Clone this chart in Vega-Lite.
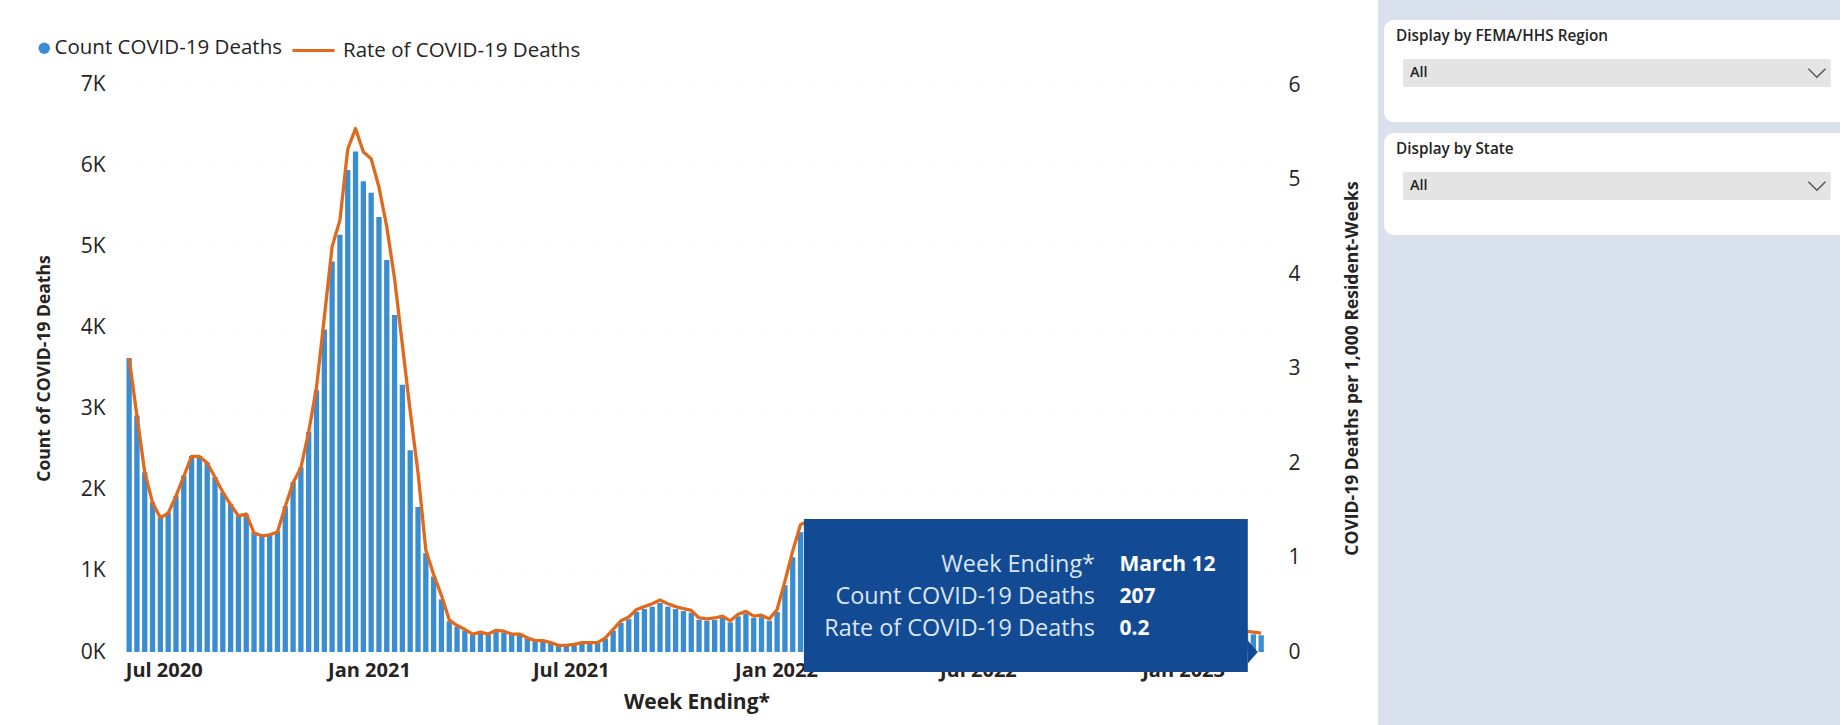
{
  "$schema": "https://vega.github.io/schema/vega-lite/v6.json",
  "background": "#ffffff",
  "padding": {"left": 34, "top": 0, "right": 0, "bottom": 0},
  "spacing": 17,
  "datasets": {
    "weekly": [
      {"week":"2020-05-31","count":3630,"rate":3.11},
      {"week":"2020-06-07","count":2920,"rate":2.50},
      {"week":"2020-06-14","count":2220,"rate":1.90},
      {"week":"2020-06-21","count":1850,"rate":1.58},
      {"week":"2020-06-28","count":1660,"rate":1.42},
      {"week":"2020-07-05","count":1720,"rate":1.47},
      {"week":"2020-07-12","count":1930,"rate":1.65},
      {"week":"2020-07-19","count":2180,"rate":1.86},
      {"week":"2020-07-26","count":2420,"rate":2.07},
      {"week":"2020-08-02","count":2420,"rate":2.07},
      {"week":"2020-08-09","count":2340,"rate":2.00},
      {"week":"2020-08-16","count":2160,"rate":1.85},
      {"week":"2020-08-23","count":1970,"rate":1.69},
      {"week":"2020-08-30","count":1830,"rate":1.56},
      {"week":"2020-09-06","count":1680,"rate":1.44},
      {"week":"2020-09-13","count":1700,"rate":1.46},
      {"week":"2020-09-20","count":1480,"rate":1.26},
      {"week":"2020-09-27","count":1440,"rate":1.23},
      {"week":"2020-10-04","count":1450,"rate":1.24},
      {"week":"2020-10-11","count":1490,"rate":1.27},
      {"week":"2020-10-18","count":1800,"rate":1.54},
      {"week":"2020-10-25","count":2100,"rate":1.79},
      {"week":"2020-11-01","count":2280,"rate":1.95},
      {"week":"2020-11-08","count":2720,"rate":2.33},
      {"week":"2020-11-15","count":3230,"rate":2.80},
      {"week":"2020-11-22","count":3980,"rate":3.54},
      {"week":"2020-11-29","count":4820,"rate":4.29},
      {"week":"2020-12-06","count":5150,"rate":4.57},
      {"week":"2020-12-13","count":5950,"rate":5.32},
      {"week":"2020-12-20","count":6180,"rate":5.54},
      {"week":"2020-12-27","count":5810,"rate":5.29},
      {"week":"2021-01-03","count":5670,"rate":5.22},
      {"week":"2021-01-10","count":5370,"rate":4.92},
      {"week":"2021-01-17","count":4840,"rate":4.50},
      {"week":"2021-01-24","count":4160,"rate":3.95},
      {"week":"2021-01-31","count":3300,"rate":3.25},
      {"week":"2021-02-07","count":2490,"rate":2.55},
      {"week":"2021-02-14","count":1790,"rate":1.90},
      {"week":"2021-02-21","count":1220,"rate":1.08},
      {"week":"2021-02-28","count":930,"rate":0.82},
      {"week":"2021-03-07","count":650,"rate":0.60},
      {"week":"2021-03-14","count":380,"rate":0.34},
      {"week":"2021-03-21","count":310,"rate":0.28},
      {"week":"2021-03-28","count":265,"rate":0.24},
      {"week":"2021-04-04","count":210,"rate":0.19},
      {"week":"2021-04-11","count":230,"rate":0.21},
      {"week":"2021-04-18","count":210,"rate":0.19},
      {"week":"2021-04-25","count":250,"rate":0.23},
      {"week":"2021-05-02","count":240,"rate":0.22},
      {"week":"2021-05-09","count":210,"rate":0.19},
      {"week":"2021-05-16","count":210,"rate":0.19},
      {"week":"2021-05-23","count":165,"rate":0.15},
      {"week":"2021-05-30","count":130,"rate":0.12},
      {"week":"2021-06-06","count":130,"rate":0.12},
      {"week":"2021-06-13","count":110,"rate":0.10},
      {"week":"2021-06-20","count":80,"rate":0.07},
      {"week":"2021-06-27","count":80,"rate":0.07},
      {"week":"2021-07-04","count":90,"rate":0.08},
      {"week":"2021-07-11","count":110,"rate":0.10},
      {"week":"2021-07-18","count":110,"rate":0.10},
      {"week":"2021-07-25","count":110,"rate":0.10},
      {"week":"2021-08-01","count":165,"rate":0.15},
      {"week":"2021-08-08","count":265,"rate":0.24},
      {"week":"2021-08-15","count":360,"rate":0.33},
      {"week":"2021-08-22","count":405,"rate":0.37},
      {"week":"2021-08-29","count":495,"rate":0.45},
      {"week":"2021-09-05","count":530,"rate":0.48},
      {"week":"2021-09-12","count":560,"rate":0.51},
      {"week":"2021-09-19","count":605,"rate":0.55},
      {"week":"2021-09-26","count":560,"rate":0.51},
      {"week":"2021-10-03","count":530,"rate":0.48},
      {"week":"2021-10-10","count":505,"rate":0.46},
      {"week":"2021-10-17","count":485,"rate":0.44},
      {"week":"2021-10-24","count":395,"rate":0.36},
      {"week":"2021-10-31","count":385,"rate":0.35},
      {"week":"2021-11-07","count":395,"rate":0.36},
      {"week":"2021-11-14","count":420,"rate":0.38},
      {"week":"2021-11-21","count":365,"rate":0.33},
      {"week":"2021-11-28","count":440,"rate":0.40},
      {"week":"2021-12-05","count":475,"rate":0.43},
      {"week":"2021-12-12","count":420,"rate":0.38},
      {"week":"2021-12-19","count":430,"rate":0.39},
      {"week":"2021-12-26","count":385,"rate":0.35},
      {"week":"2022-01-02","count":495,"rate":0.45},
      {"week":"2022-01-09","count":825,"rate":0.75},
      {"week":"2022-01-16","count":1170,"rate":1.07},
      {"week":"2022-01-23","count":1480,"rate":1.35},
      {"week":"2022-01-30","count":1500,"rate":1.38},
      {"week":"2022-02-06","count":1340,"rate":1.25},
      {"week":"2022-02-13","count":1090,"rate":1.02},
      {"week":"2022-02-20","count":835,"rate":0.78},
      {"week":"2022-02-27","count":620,"rate":0.58},
      {"week":"2022-03-06","count":450,"rate":0.42},
      {"week":"2022-03-13","count":320,"rate":0.30},
      {"week":"2022-03-20","count":235,"rate":0.22},
      {"week":"2022-03-27","count":180,"rate":0.17},
      {"week":"2022-04-03","count":140,"rate":0.13},
      {"week":"2022-04-10","count":118,"rate":0.11},
      {"week":"2022-04-17","count":107,"rate":0.10},
      {"week":"2022-04-24","count":96,"rate":0.09},
      {"week":"2022-05-01","count":96,"rate":0.09},
      {"week":"2022-05-08","count":107,"rate":0.10},
      {"week":"2022-05-15","count":128,"rate":0.12},
      {"week":"2022-05-22","count":150,"rate":0.14},
      {"week":"2022-05-29","count":160,"rate":0.15},
      {"week":"2022-06-05","count":182,"rate":0.17},
      {"week":"2022-06-12","count":193,"rate":0.18},
      {"week":"2022-06-19","count":203,"rate":0.19},
      {"week":"2022-06-26","count":225,"rate":0.21},
      {"week":"2022-07-03","count":246,"rate":0.23},
      {"week":"2022-07-10","count":278,"rate":0.26},
      {"week":"2022-07-17","count":321,"rate":0.30},
      {"week":"2022-07-24","count":353,"rate":0.33},
      {"week":"2022-07-31","count":385,"rate":0.36},
      {"week":"2022-08-07","count":396,"rate":0.37},
      {"week":"2022-08-14","count":396,"rate":0.37},
      {"week":"2022-08-21","count":375,"rate":0.35},
      {"week":"2022-08-28","count":364,"rate":0.34},
      {"week":"2022-09-04","count":332,"rate":0.31},
      {"week":"2022-09-11","count":310,"rate":0.29},
      {"week":"2022-09-18","count":300,"rate":0.28},
      {"week":"2022-09-25","count":289,"rate":0.27},
      {"week":"2022-10-02","count":289,"rate":0.27},
      {"week":"2022-10-09","count":278,"rate":0.26},
      {"week":"2022-10-16","count":289,"rate":0.27},
      {"week":"2022-10-23","count":300,"rate":0.28},
      {"week":"2022-10-30","count":310,"rate":0.29},
      {"week":"2022-11-06","count":321,"rate":0.30},
      {"week":"2022-11-13","count":332,"rate":0.31},
      {"week":"2022-11-20","count":353,"rate":0.33},
      {"week":"2022-11-27","count":385,"rate":0.36},
      {"week":"2022-12-04","count":460,"rate":0.43},
      {"week":"2022-12-11","count":535,"rate":0.50},
      {"week":"2022-12-18","count":588,"rate":0.55},
      {"week":"2022-12-25","count":599,"rate":0.56},
      {"week":"2023-01-01","count":620,"rate":0.58},
      {"week":"2023-01-08","count":588,"rate":0.55},
      {"week":"2023-01-15","count":514,"rate":0.48},
      {"week":"2023-01-22","count":428,"rate":0.40},
      {"week":"2023-01-29","count":353,"rate":0.33},
      {"week":"2023-02-05","count":300,"rate":0.28},
      {"week":"2023-02-12","count":268,"rate":0.25},
      {"week":"2023-02-19","count":246,"rate":0.23},
      {"week":"2023-02-26","count":230,"rate":0.22},
      {"week":"2023-03-05","count":218,"rate":0.21},
      {"week":"2023-03-12","count":207,"rate":0.20}
    ],
    "tooltip": [
      {"labels": "Week Ending*\nCount COVID-19 Deaths\nRate of COVID-19 Deaths", "values": "March 12\n207\n0.2"}
    ],
    "slicers": [
      {"slicer": "Display by FEMA/HHS Region", "selected": "All"},
      {"slicer": "Display by State", "selected": "All"}
    ]
  },
  "hconcat": [
    {
      "width": 1157,
      "height": 652,
      "layer": [
        {
          "data": {"name": "weekly"},
          "mark": {"type": "bar", "width": 5.3},
          "encoding": {
            "x": {
              "field": "week", "type": "temporal",
              "scale": {"type": "utc", "domain": [{"year": 2020, "month": 5, "date": 25, "hours": 12, "utc": true}, {"year": 2023, "month": 3, "date": 19, "hours": 22, "utc": true}]},
              "axis": {
                "values": [{"year": 2020, "month": 7, "date": 1, "utc": true}, {"year": 2021, "month": 1, "date": 1, "utc": true}, {"year": 2021, "month": 7, "date": 1, "utc": true}, {"year": 2022, "month": 1, "date": 1, "utc": true}, {"year": 2022, "month": 7, "date": 1, "utc": true}, {"year": 2023, "month": 1, "date": 1, "utc": true}],
                "labelExpr": "utcFormat(datum.value, '%b %Y')",
                "title": "Week Ending*", "titleFontSize": 21, "titleFontWeight": "bold", "titlePadding": 11,
                "labelFontSize": 20, "labelFontWeight": "bold", "labelPadding": 8.5,
                "ticks": false, "tickSize": 0, "domain": false, "grid": false, "labelFlush": false
              }
            },
            "y": {
              "field": "count", "type": "quantitative",
              "scale": {"domain": [0, 8049], "nice": false},
              "axis": {
                "orient": "left", "values": [0, 1000, 2000, 3000, 4000, 5000, 6000, 7000],
                "labelExpr": "(datum.value / 1000) + 'K'",
                "title": "Count of COVID-19 Deaths", "titleFontSize": 17.5, "titleFontWeight": "bold",
                "titleX": -65, "titleY": 368,
                "labelFontSize": 21, "labelPadding": 13,
                "ticks": false, "tickSize": 0, "domain": false,
                "grid": true, "gridColor": "#f0f0f0", "gridDash": [1, 5]
              }
            },
            "fill": {
              "datum": "Count COVID-19 Deaths",
              "scale": {"range": ["#3a8dd0"]},
              "legend": {"orient": "none", "legendX": -84, "legendY": 38, "title": null, "symbolType": "circle", "symbolSize": 133, "labelFontSize": 20.5, "labelOffset": 0, "labelLimit": 400}
            }
          }
        },
        {
          "layer": [
            {
              "data": {"name": "weekly"},
              "mark": {"type": "line", "strokeWidth": 3.3, "strokeJoin": "round"},
              "encoding": {
                "x": {
                  "field": "week", "type": "temporal",
                  "axis": {
                    "values": [{"year": 2020, "month": 7, "date": 1, "utc": true}, {"year": 2021, "month": 1, "date": 1, "utc": true}, {"year": 2021, "month": 7, "date": 1, "utc": true}, {"year": 2022, "month": 1, "date": 1, "utc": true}, {"year": 2022, "month": 7, "date": 1, "utc": true}, {"year": 2023, "month": 1, "date": 1, "utc": true}],
                    "labelExpr": "utcFormat(datum.value, '%b %Y')",
                    "title": "Week Ending*", "titleFontSize": 21, "titleFontWeight": "bold", "titlePadding": 11,
                    "labelFontSize": 20, "labelFontWeight": "bold", "labelPadding": 8.5,
                    "ticks": false, "tickSize": 0, "domain": false, "grid": false, "labelFlush": false
                  }
                },
                "y": {
                  "field": "rate", "type": "quantitative",
                  "scale": {"domain": [0, 6.8995], "nice": false},
                  "axis": {
                    "orient": "right", "values": [0, 1, 2, 3, 4, 5, 6], "format": "d",
                    "title": "COVID-19 Deaths per 1,000 Resident-Weeks", "titleAngle": 270, "titleBaseline": "top",
                    "titleFontSize": 17.5, "titleFontWeight": "bold", "titleX": 68, "titleY": 368,
                    "labelFontSize": 21, "labelPadding": 13,
                    "ticks": false, "tickSize": 0, "domain": false, "grid": false
                  }
                },
                "stroke": {
                  "datum": "Rate of COVID-19 Deaths",
                  "scale": {"range": ["#e0691e"]},
                  "legend": {"orient": "none", "legendX": 173, "legendY": 28, "title": null, "symbolType": "stroke", "symbolSize": 1764, "symbolStrokeWidth": 3, "labelFontSize": 20.5, "labelOffset": 7, "labelLimit": 400}
                }
              }
            },
            {
              "data": {"name": "tooltip"},
              "mark": {"type": "rect", "color": "#124b94"},
              "encoding": {
                "x": {"datum": {"year": 2022, "month": 1, "date": 26, "utc": true}, "type": "temporal"},
                "x2": {"datum": {"year": 2023, "month": 2, "date": 28, "utc": true}},
                "y": {"datum": 1.407, "type": "quantitative"},
                "y2": {"datum": -0.212}
              }
            },
            {
              "data": {"name": "tooltip"},
              "mark": {"type": "point", "shape": "M0,-1.15L1,0L0,1.15Z", "filled": true, "size": 400, "color": "#124b94", "opacity": 1},
              "encoding": {
                "x": {"datum": {"year": 2023, "month": 2, "date": 28, "utc": true}, "type": "temporal"},
                "y": {"datum": 0, "type": "quantitative"}
              }
            },
            {
              "data": {"name": "tooltip"},
              "mark": {"type": "text", "align": "right", "baseline": "middle", "lineBreak": "\n", "lineHeight": 32, "fontSize": 23.4, "color": "#dbe5f1"},
              "encoding": {
                "x": {"datum": {"year": 2022, "month": 10, "date": 14, "utc": true}, "type": "temporal"},
                "y": {"datum": 0.921, "type": "quantitative"},
                "text": {"field": "labels"}
              }
            },
            {
              "data": {"name": "tooltip"},
              "mark": {"type": "text", "align": "left", "baseline": "middle", "lineBreak": "\n", "lineHeight": 32, "fontSize": 21, "fontWeight": "bold", "color": "#ffffff"},
              "encoding": {
                "x": {"datum": {"year": 2022, "month": 11, "date": 5, "utc": true}, "type": "temporal"},
                "y": {"datum": 0.921, "type": "quantitative"},
                "text": {"field": "values"}
              }
            }
          ]
        }
      ],
      "resolve": {"scale": {"y": "independent"}}
    },
    {
      "width": 462,
      "height": 725,
      "view": {"fill": "#d9e1ec", "stroke": null},
      "data": {"name": "slicers"},
      "layer": [
        {
          "mark": {"type": "bar", "color": "#ffffff", "cornerRadius": 10},
          "encoding": {
            "y": {"field": "slicer", "type": "nominal", "sort": null, "scale": {"domain": ["Display by FEMA/HHS Region", "Display by State"], "range": [20, 235], "paddingInner": 0.097, "paddingOuter": 0}, "axis": null},
            "x": {"datum": 0.013, "type": "quantitative", "scale": {"domain": [0, 1], "nice": false, "zero": false}, "axis": null},
            "x2": {"datum": 1.03}
          }
        },
        {
          "transform": [{"fold": ["slicer", "selected"], "as": ["part", "text"]}, {"filter": "datum.part === 'selected'"}],
          "mark": {"type": "bar", "color": "#e4e4e4", "cornerRadius": 2},
          "encoding": {
            "y": {"field": "slicer", "type": "nominal", "sort": null},
            "yOffset": {"field": "part", "type": "nominal", "scale": {"domain": ["slicer", "selected"], "paddingInner": 0.282, "paddingOuter": 0.449, "align": 0}},
            "x": {"datum": 0.054, "type": "quantitative"},
            "x2": {"datum": 0.98}
          }
        },
        {
          "transform": [{"fold": ["slicer", "selected"], "as": ["part", "text"]}, {"filter": "datum.part === 'slicer'"}],
          "mark": {"type": "text", "align": "left", "baseline": "middle", "fontSize": 15.3, "fontWeight": 600, "color": "#252423", "dy": 2},
          "encoding": {
            "y": {"field": "slicer", "type": "nominal", "sort": null},
            "yOffset": {"field": "part", "type": "nominal"},
            "x": {"datum": 0.039, "type": "quantitative"},
            "text": {"field": "text"}
          }
        },
        {
          "transform": [{"fold": ["slicer", "selected"], "as": ["part", "text"]}, {"filter": "datum.part === 'selected'"}],
          "mark": {"type": "text", "align": "left", "baseline": "middle", "fontSize": 14.5, "fontWeight": 600, "color": "#252423"},
          "encoding": {
            "y": {"field": "slicer", "type": "nominal", "sort": null},
            "yOffset": {"field": "part", "type": "nominal"},
            "x": {"datum": 0.069, "type": "quantitative"},
            "text": {"field": "text"}
          }
        },
        {
          "transform": [{"fold": ["slicer", "selected"], "as": ["part", "text"]}, {"filter": "datum.part === 'selected'"}],
          "mark": {"type": "point", "shape": "M-1,-0.5L0,0.5L1,-0.5", "filled": false, "size": 289, "color": "#555555", "strokeWidth": 1.4, "opacity": 1},
          "encoding": {
            "y": {"field": "slicer", "type": "nominal", "sort": null},
            "yOffset": {"field": "part", "type": "nominal"},
            "x": {"datum": 0.95, "type": "quantitative"}
          }
        }
      ]
    }
  ],
  "config": {
    "view": {"stroke": null},
    "font": "Open Sans",
    "axis": {"labelFont": "Open Sans", "titleFont": "Open Sans", "labelColor": "#252423", "titleColor": "#252423"},
    "legend": {"labelFont": "Open Sans", "labelColor": "#252423"},
    "text": {"font": "Open Sans"}
  }
}
